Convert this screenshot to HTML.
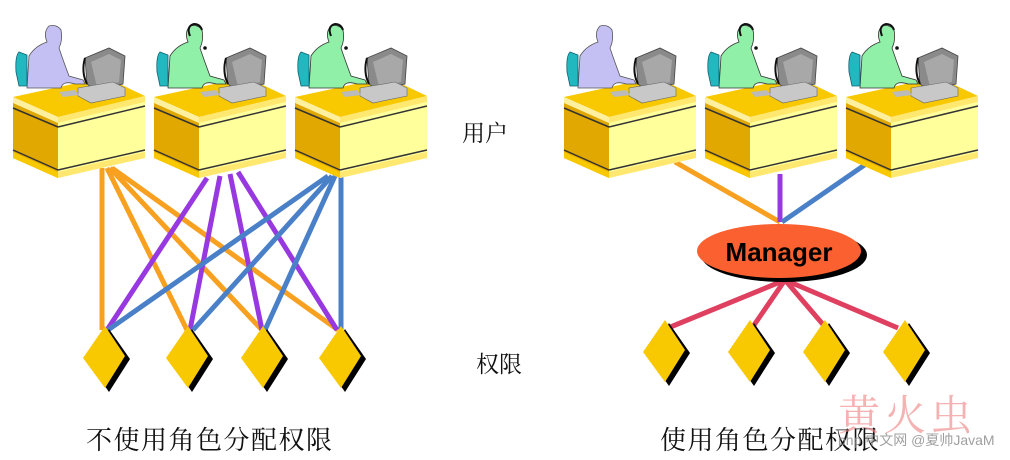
<!DOCTYPE html>
<html><head><meta charset="utf-8">
<style>
html,body{margin:0;padding:0;background:#fff;width:1010px;height:460px;overflow:hidden}
svg{display:block}
.cn{font-family:"Liberation Serif","Noto Serif CJK SC",serif;fill:#111}
</style></head><body>
<svg width="1010" height="460" viewBox="0 0 1010 460" xmlns="http://www.w3.org/2000/svg">
<defs>
<g id="desk">
  <!-- chair -->
  <path d="M6,52 Q2,56 3,72 L6,86 L14,86 L14,55 Z" fill="#22b8c0" stroke="#106070" stroke-width="0.8"/>
  <!-- monitor -->
  <path d="M72,58 L96,48 L112,56 L110,84 L82,90 L74,84 Z" fill="#8a8a8a" stroke="#444" stroke-width="0.8"/>
  <path d="M78,62 L96,54 L108,60 L106,82 L84,87 Z" fill="#a8a8a8"/>
  <path d="M72,58 Q68,72 74,84" fill="none" stroke="#111" stroke-width="2"/>
  <!-- cpu/keyboard -->
  <path d="M65,88 L100,82 L112,88 L112,96 L78,103 L65,96 Z" fill="#c8c8c8" stroke="#666" stroke-width="0.6"/>
  <path d="M46,92 L62,90 L66,95 L50,97 Z" fill="#bbb"/>
</g>
<g id="table">
  <polygon points="0,97 45,117 132,96 92,77" fill="#f8c800"/>
  <polygon points="0,97 45,117 45,123 0,103" fill="#fff0a0"/>
  <polygon points="45,117 132,96 132,102 45,123" fill="#ffe870"/>
  <polygon points="0,103 45,123 45,178 0,158" fill="#e0a800"/>
  <polygon points="45,123 132,102 132,158 45,178" fill="#ffff9c"/>
  <line x1="0" y1="108" x2="45" y2="127" stroke="#333" stroke-width="1.5"/>
  <line x1="45" y1="127" x2="132" y2="106" stroke="#333" stroke-width="1.5"/>
  <line x1="0" y1="150" x2="45" y2="170" stroke="#333" stroke-width="1.5"/>
  <line x1="45" y1="170" x2="132" y2="150" stroke="#333" stroke-width="1.5"/>
  <polygon points="0,152 45,172 45,178 0,158" fill="#f8c800"/>
  <polygon points="45,172 132,152 132,158 45,178" fill="#ffe870"/>
</g>
<g id="p1">
  <path d="M36,26 Q30,32 34,42 Q22,46 16,56 L14,88 L48,88 Q50,80 62,84 L72,84 L70,80 L56,76 Q50,60 46,48 Q50,40 48,30 Q44,24 36,26 Z" fill="#c4c0f4" stroke="#555" stroke-width="0.8"/>
</g>
<g id="p2">
  <path d="M36,26 Q30,32 34,42 Q22,46 16,56 L14,88 L48,88 Q50,80 62,84 L72,84 L70,80 L56,76 Q50,60 46,48 Q50,40 48,30 Q44,24 36,26 Z" fill="#90f0a8" stroke="#333" stroke-width="0.8"/>
  <path d="M36,36 Q32,26 40,24 Q46,24 48,30" fill="none" stroke="#111" stroke-width="2"/>
  <circle cx="51" cy="48" r="1.8" fill="#111"/>
</g>
<g id="dia">
  <polygon points="29,3 50,33 29,66 8,36" fill="#000"/>
  <polygon points="25,0 45,30 25,62 3,32" fill="#f8c800"/>
</g>
</defs>

<!-- left connectors -->
<g stroke-width="5" stroke-linecap="butt" fill="none">
  <g stroke="#f8a020">
    <line x1="102" y1="168" x2="102" y2="330"/>
    <line x1="107" y1="168" x2="187" y2="330"/>
    <line x1="110" y1="168" x2="262" y2="330"/>
    <line x1="112" y1="168" x2="338" y2="330"/>
  </g>
  <g stroke="#9838e0">
    <line x1="207" y1="178" x2="107" y2="330"/>
    <line x1="220" y1="176" x2="190" y2="330"/>
    <line x1="230" y1="174" x2="262" y2="330"/>
    <line x1="238" y1="172" x2="337" y2="330"/>
  </g>
  <g stroke="#4a80c8">
    <line x1="328" y1="176" x2="108" y2="330"/>
    <line x1="332" y1="176" x2="193" y2="330"/>
    <line x1="335" y1="176" x2="265" y2="330"/>
    <line x1="341" y1="176" x2="341" y2="330"/>
  </g>
</g>
<!-- right connectors -->
<g stroke-width="5" fill="none">
  <line x1="675" y1="162" x2="780" y2="222" stroke="#f8a020"/>
  <line x1="780" y1="174" x2="780" y2="222" stroke="#9838e0"/>
  <line x1="866" y1="164" x2="782" y2="222" stroke="#4a80c8"/>
  <g stroke="#e04060">
    <line x1="785" y1="280" x2="668" y2="328"/>
    <line x1="785" y1="280" x2="752" y2="328"/>
    <line x1="785" y1="280" x2="826" y2="328"/>
    <line x1="785" y1="280" x2="898" y2="328"/>
  </g>
</g>

<!-- desks left -->
<g transform="translate(13,0)"><use href="#table"/><use href="#p1"/><use href="#desk"/></g>
<g transform="translate(154,0)"><use href="#table"/><use href="#p2"/><use href="#desk"/></g>
<g transform="translate(295,0)"><use href="#table"/><use href="#p2"/><use href="#desk"/></g>
<!-- desks right -->
<g transform="translate(564,0)"><use href="#table"/><use href="#p1"/><use href="#desk"/></g>
<g transform="translate(705,0)"><use href="#table"/><use href="#p2"/><use href="#desk"/></g>
<g transform="translate(846,0)"><use href="#table"/><use href="#p2"/><use href="#desk"/></g>

<!-- diamonds -->
<g transform="translate(80,326)"><use href="#dia"/></g>
<g transform="translate(163,326)"><use href="#dia"/></g>
<g transform="translate(238,326)"><use href="#dia"/></g>
<g transform="translate(316,326)"><use href="#dia"/></g>
<g transform="translate(640,320)"><use href="#dia"/></g>
<g transform="translate(725,320)"><use href="#dia"/></g>
<g transform="translate(800,320)"><use href="#dia"/></g>
<g transform="translate(880,320)"><use href="#dia"/></g>

<!-- Manager -->
<ellipse cx="784" cy="255" rx="83" ry="27" fill="#000"/>
<ellipse cx="779" cy="251" rx="82" ry="27" fill="#fa6030"/>
<text x="779" y="261" text-anchor="middle" font-family="Liberation Sans,sans-serif" font-weight="bold" font-size="26" fill="#000">Manager</text>

<!-- labels -->
<text class="cn" x="462" y="141" font-size="23">用户</text>
<text class="cn" x="476" y="372" font-size="23">权限</text>
<text class="cn" x="86" y="449" font-size="26" letter-spacing="1.5">不使用角色分配权限</text>
<text class="cn" x="660" y="449" font-size="26" letter-spacing="1.5">使用角色分配权限</text>

<!-- watermark -->
<text x="838" y="430" font-family="Liberation Serif,'Noto Serif CJK SC',serif" font-size="42" fill="#f08080" opacity="0.6" letter-spacing="4">黄火虫</text>
<text x="838" y="445" font-family="Liberation Sans,'Noto Sans CJK SC',sans-serif" font-size="14" fill="#888" opacity="0.8">php 中文网 @夏帅JavaM</text>
</svg>
</body></html>
